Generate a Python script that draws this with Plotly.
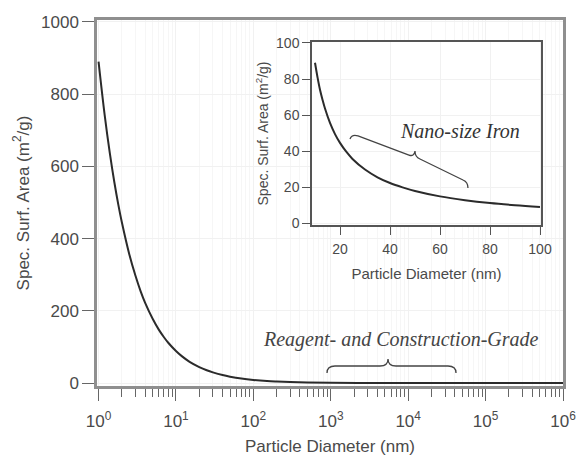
import plotly.graph_objects as go

# ---- data ----
main_d = [1, 1.2, 1.4, 1.6, 1.8, 2, 2.5, 3, 3.5, 4, 5, 6, 7, 8, 10, 12, 15, 20, 25, 30,
          40, 50, 70, 100, 150, 200, 300, 500, 1000, 3000, 10000, 100000, 1000000]
main_ssa = [890, 742, 636, 556, 494, 445, 356, 297, 254, 222, 178, 148, 127, 111, 89, 74,
            59, 44.5, 35.6, 29.7, 22.2, 17.8, 12.7, 8.9, 5.9, 4.5, 3.0, 1.8, 0.9, 0.3,
            0.09, 0.009, 0.001]
inset_d = [10, 11, 12, 13, 14, 16, 18, 20, 22.5, 25, 30, 35, 40, 45, 50, 60, 70, 80, 90, 100]
inset_ssa = [89, 81, 74, 68.5, 63.6, 55.6, 49.4, 44.5, 39.6, 35.6, 29.7, 25.4, 22.2, 19.8,
             17.8, 14.8, 12.7, 11.1, 9.9, 8.9]

main_xticks = [1, 10, 100, 1000, 10000, 100000, 1000000]
main_xticktext = ["10<sup>0</sup>", "10<sup>1</sup>", "10<sup>2</sup>", "10<sup>3</sup>",
                  "10<sup>4</sup>", "10<sup>5</sup>", "10<sup>6</sup>"]
main_yticks = [0, 200, 400, 600, 800, 1000]
inset_xticks = [20, 40, 60, 80, 100]
inset_yticks = [0, 20, 40, 60, 80, 100]

minor_x = [m * 10 ** e for e in range(0, 6) for m in range(2, 10)]

W, H = 578, 456
L, R, T, B = 97, 15, 20, 70
PW, PH = W - L - R, H - T - B


def px(x):
    return (x - L) / PW


def py(y):
    return (H - B - y) / PH


def path(cmds):
    out = []
    for c in cmds:
        if isinstance(c, str):
            out.append(c)
        else:
            out.append(f"{px(c[0]):.4f},{py(c[1]):.4f}")
    return " ".join(out)


FONT = "Liberation Sans, Arial, Helvetica, sans-serif"
SERIF = "Liberation Serif, Times New Roman, serif"
GRID = "#f1f1f1"
TXT = "#4a4a4a"

fig = go.Figure()
fig.add_trace(go.Scatter(x=main_d, y=main_ssa, mode="lines", line=dict(color="#2b2b2b", width=2, shape="spline"),
                         xaxis="x", yaxis="y", showlegend=False, hoverinfo="skip"))
fig.add_trace(go.Scatter(x=inset_d, y=inset_ssa, mode="lines", line=dict(color="#2b2b2b", width=2, shape="spline"),
                         xaxis="x2", yaxis="y2", showlegend=False, hoverinfo="skip"))

ix0, ix1 = px(312), px(541)
iy0, iy1 = py(225), py(42)

fig.update_layout(
    width=W, height=H, margin=dict(l=L, r=R, t=T, b=B),
    paper_bgcolor="white", plot_bgcolor="white",
    font=dict(family=FONT, size=16, color=TXT),
    xaxis=dict(type="log", range=[-0.02, 6.0], domain=[0, 1], anchor="y", automargin=False,
               tickvals=main_xticks, ticktext=main_xticktext, ticks="outside", ticklen=12,
               tickwidth=1.3, tickcolor="#666", showline=True, linecolor="#8f8f8f", linewidth=2.5,
               mirror=True, showgrid=True, gridcolor=GRID, zeroline=False, ticklabelstandoff=6,
               minor=dict(tickvals=minor_x, ticks="outside", ticklen=8, tickcolor="#666", tickwidth=1.2,
                          showgrid=True, gridcolor="#f6f6f6"),
               title=dict(text="Particle Diameter (nm)", font=dict(size=17, color=TXT), standoff=20),
               tickfont=dict(size=17, color=TXT)),
    yaxis=dict(range=[-8, 1005], domain=[0, 1], anchor="x", tickvals=main_yticks, automargin=False,
               ticks="outside", ticklen=12, tickwidth=1.3, tickcolor="#666",
               showline=True, linecolor="#8f8f8f", linewidth=2.5, mirror=True,
               showgrid=True, gridcolor=GRID, zeroline=False,
               title=dict(text="Spec. Surf. Area (m<sup>2</sup>/g)", font=dict(size=17, color=TXT), standoff=8),
               tickfont=dict(size=17, color=TXT)),
    xaxis2=dict(range=[8.8, 100.4], domain=[ix0, ix1], anchor="y2", tickvals=inset_xticks, automargin=False,
                ticks="outside", ticklen=8, tickcolor="#555", showline=True, linecolor="#555",
                linewidth=1.5, mirror=True, showgrid=True, gridcolor=GRID, zeroline=False,
                ticklabelstandoff=2,
                title=dict(text="Particle Diameter (nm)", font=dict(size=15, color=TXT), standoff=13),
                tickfont=dict(size=14, color=TXT)),
    yaxis2=dict(range=[-1.1, 100.55], domain=[iy0, iy1], anchor="x2", tickvals=inset_yticks, automargin=False,
                ticks="outside", ticklen=8, tickcolor="#555", showline=True, linecolor="#555",
                linewidth=1.5, mirror=True, showgrid=True, gridcolor=GRID, zeroline=False,
                title=dict(text="Spec. Surf. Area (m<sup>2</sup>/g)", font=dict(size=14, color=TXT), standoff=4),
                tickfont=dict(size=14, color=TXT)),
)

# braces
brace_h = path(["M", (327, 373), "Q", (327, 366), (335, 366), "L", (380, 366), "Q", (388, 366), (388, 359),
                "Q", (388, 366), (396, 366), "L", (448, 366), "Q", (456, 366), (456, 373)])
fig.add_shape(type="path", xref="paper", yref="paper", path=brace_h, line=dict(color="#444", width=1.3))
brace_d = path(["M", (350, 139), "Q", (352, 134), (358, 136), "L", (409, 155), "Q", (414, 157), (415, 151),
                "Q", (415, 157), (420, 159), "L", (463, 180), "Q", (468, 182), (468, 188)])
fig.add_shape(type="path", xref="paper", yref="paper", path=brace_d, line=dict(color="#444", width=1.3))

fig.add_annotation(xref="paper", yref="paper", x=px(460), y=py(131), xanchor="center", yanchor="middle",
                   showarrow=False, text="<i>Nano-size Iron</i>",
                   font=dict(family=SERIF, size=20, color="#333"))
fig.add_annotation(xref="paper", yref="paper", x=px(401), y=py(339), xanchor="center", yanchor="middle",
                   showarrow=False, text="<i>Reagent- and Construction-Grade</i>",
                   font=dict(family=SERIF, size=20, color="#444"))

fig.write_html("out.html")
